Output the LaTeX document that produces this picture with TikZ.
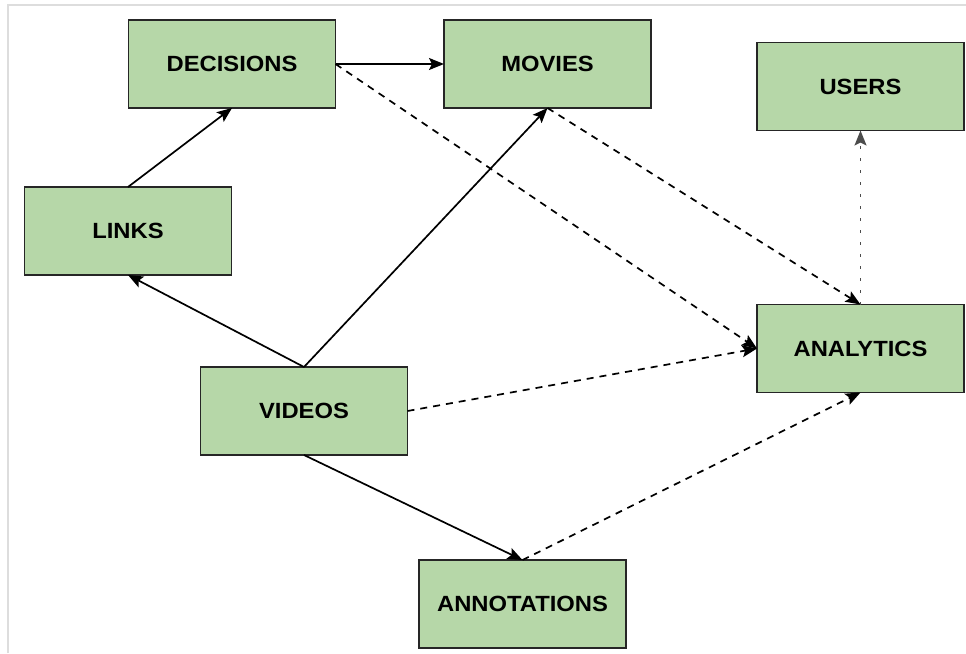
\documentclass[tikz,border=0pt]{standalone}
\usepackage{fontspec}
\setmainfont{Liberation Sans}[FakeStretch=1.08]
\usetikzlibrary{arrows.meta}
\definecolor{boxgreen}{HTML}{B6D7A8}
\definecolor{framegray}{HTML}{DDDDDD}
\begin{document}
\begin{tikzpicture}[x=1pt,y=-1pt,
  entity/.style={draw=black!85, line width=1.4pt, fill=boxgreen,
    minimum width=207pt, minimum height=88pt, inner sep=0pt, outer sep=0pt,
    font=\fontsize{22}{26}\selectfont\bfseries},
  link/.style={line width=1.7pt, -{Stealth[length=15pt,width=12pt,inset=3pt]}},
  flow/.style={link, dash pattern=on 7pt off 6pt},
  feed/.style={link, black!70, dash pattern=on 3pt off 9pt}]
\useasboundingbox (0,0) rectangle (966,653);
% page frame
\draw[framegray, line width=2pt] (8,653) -- (8,5) -- (966,5);

% entities
\node[entity] (dec)   at (232,64)    {DECISIONS};
\node[entity] (mov)   at (547.5,64)  {MOVIES};
\node[entity] (usr)   at (860.5,86.5){USERS};
\node[entity] (lnk)   at (128,231)   {LINKS};
\node[entity] (ana)   at (860.5,348.5){ANALYTICS};
\node[entity] (vid)   at (304,411)   {VIDEOS};
\node[entity] (ann)   at (522.5,604) {ANNOTATIONS};

% direct relations
\draw[link] (dec.east)  -- (mov.west);
\draw[link] (lnk.north) -- (dec.south);
\draw[link] (vid.north) -- (lnk.south);
\draw[link] (vid.north) -- (mov.south);
\draw[link] (vid.south) -- (ann.north);

% data flowing into analytics
\draw[flow] (dec.east)  -- (ana.west);
\draw[flow] (vid.east)  -- (ana.west);
\draw[flow] (mov.south) -- (ana.north);
\draw[flow] (ann.north) -- (ana.south);
\draw[feed] (ana.north) -- (usr.south);
\end{tikzpicture}
\end{document}
